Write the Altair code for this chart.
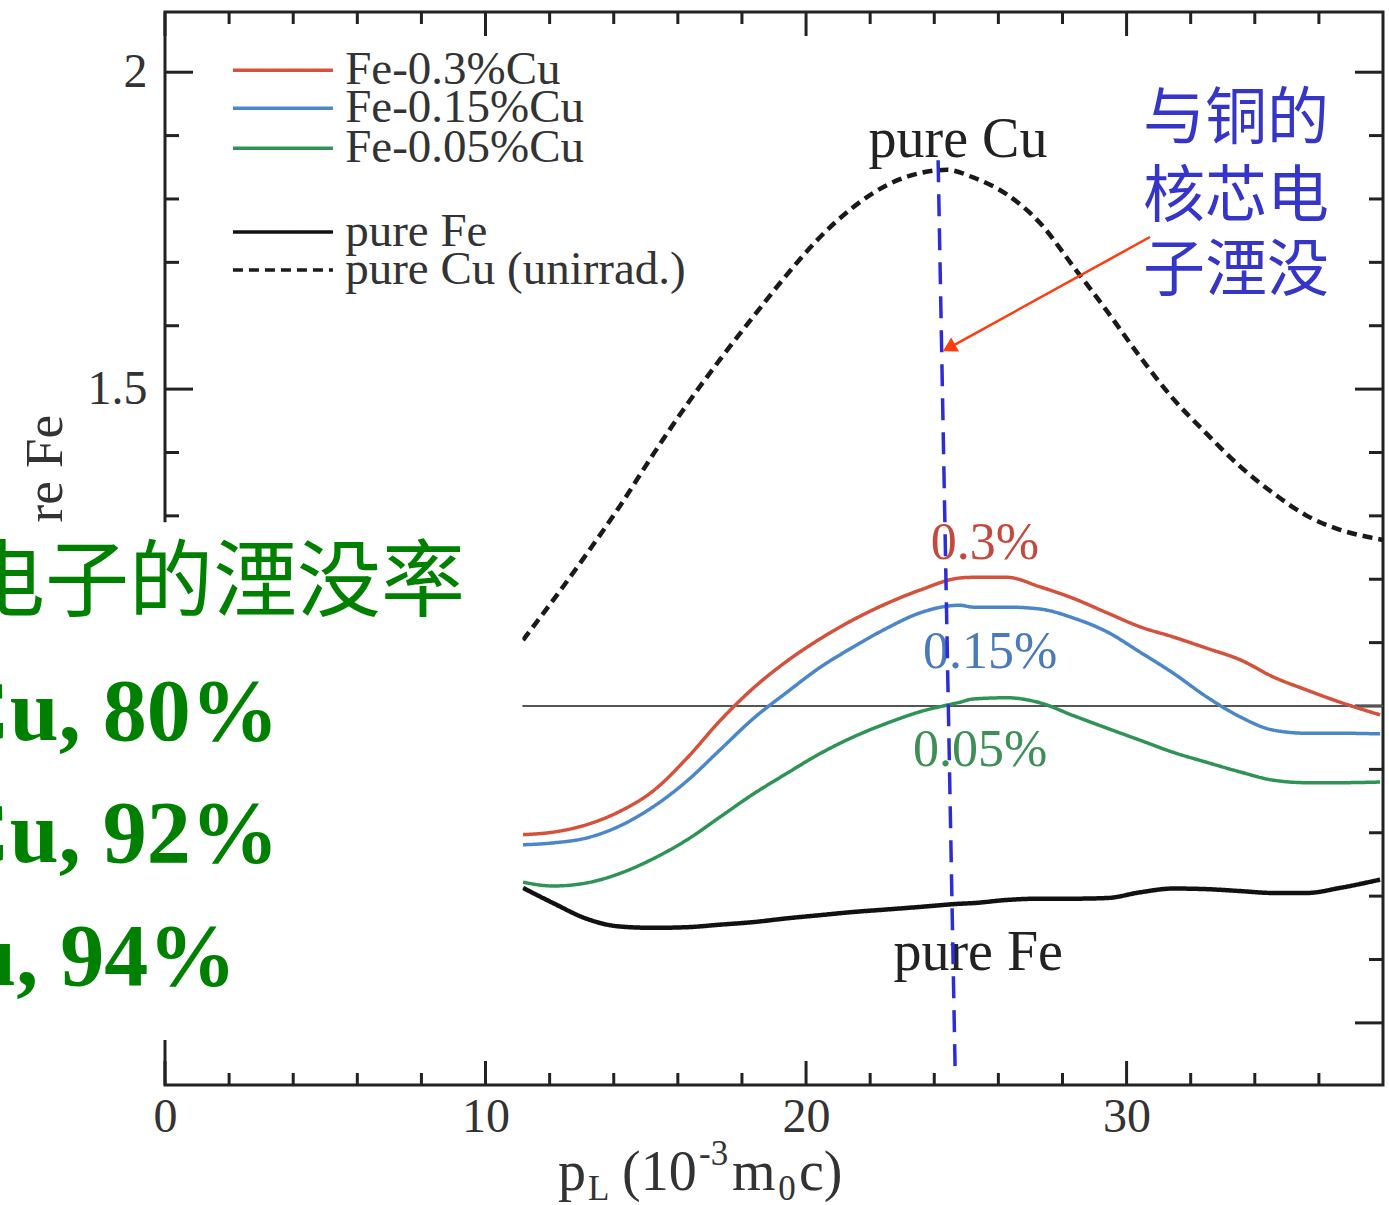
import altair as alt
import pandas as pd

# ---------------- data ----------------
# momentum p_L (10^-3 m0c) grid used for the Fe-Cu alloys and pure Fe
p_alloy = [11.17, 12.11, 13.17, 14.20, 15.23, 16.29, 17.32, 18.35, 19.41, 20.44,
           21.47, 22.53, 23.56, 24.80, 25.21, 26.27, 27.30, 28.33, 29.39, 30.42,
           31.45, 32.51, 33.54, 34.57, 35.63, 36.66, 37.91]
fe_03 = [0.797, 0.801, 0.813, 0.834, 0.866, 0.918, 0.977, 1.028, 1.071, 1.106,
         1.136, 1.162, 1.183, 1.202, 1.203, 1.203, 1.188, 1.170, 1.147, 1.125,
         1.109, 1.091, 1.073, 1.046, 1.025, 1.006, 0.986]
fe_015 = [0.781, 0.784, 0.792, 0.811, 0.841, 0.882, 0.931, 0.980, 1.022, 1.061,
          1.093, 1.123, 1.147, 1.159, 1.156, 1.156, 1.153, 1.139, 1.117, 1.085,
          1.052, 1.014, 0.983, 0.962, 0.957, 0.957, 0.956]
fe_005 = [0.722, 0.716, 0.721, 0.736, 0.759, 0.789, 0.825, 0.861, 0.894, 0.925,
          0.951, 0.973, 0.991, 1.006, 1.011, 1.013, 1.005, 0.985, 0.965, 0.946,
          0.927, 0.911, 0.896, 0.883, 0.879, 0.879, 0.880]
pure_fe = [0.713, 0.689, 0.664, 0.652, 0.650, 0.651, 0.655, 0.659, 0.665, 0.670,
           0.675, 0.679, 0.683, 0.688, 0.689, 0.694, 0.696, 0.696, 0.697, 0.706,
           0.712, 0.711, 0.708, 0.705, 0.705, 0.713, 0.726]

p_cu = [11.17, 12.11, 13.17, 14.20, 15.23, 16.29, 17.32, 18.35, 19.41, 20.44,
        21.47, 22.53, 23.56, 24.40, 25.21, 26.27, 27.30, 28.33, 29.39, 30.42,
        31.45, 32.51, 33.54, 34.57, 35.63, 36.66, 37.50, 38.00]
pure_cu = [1.104, 1.167, 1.241, 1.316, 1.397, 1.476, 1.547, 1.614, 1.681, 1.740,
           1.787, 1.822, 1.841, 1.846, 1.834, 1.807, 1.762, 1.694, 1.623, 1.551,
           1.485, 1.429, 1.378, 1.336, 1.300, 1.278, 1.267, 1.262]

series_names = ["Fe-0.3%Cu", "Fe-0.15%Cu", "Fe-0.05%Cu", "pure Fe", "pure Cu (unirrad.)"]
series_colors = ["#d4513b", "#4a86c8", "#2f9356", "#111111", "#1a1a1a"]
series_dash = [[1, 0], [1, 0], [1, 0], [1, 0], [10, 6]]

x_major = [0, 10, 20, 30]
x_minor = [2, 4, 6, 8, 12, 14, 16, 18, 22, 24, 26, 28, 32, 34, 36]
y_major = [0.5, 1.0, 1.5, 2.0]
y_minor = [0.6, 0.7, 0.8, 0.9, 1.1, 1.2, 1.3, 1.4, 1.6, 1.7, 1.8, 1.9]

curve_labels = ["pure Cu", "0.3%", "0.15%", "0.05%", "pure Fe"]
curve_label_colors = ["#222222", "#c4493d", "#4a7ab8", "#3d8f55", "#222222"]

note_lines = ["与铜的", "核芯电", "子湮没"]
rate_title = "核芯电子的湮没率"
rate_lines = ["Cu, 80%", "Cu, 92%", "u, 94%"]

# ---------------- layout ----------------
W, H = 1218, 1073
xs = alt.Scale(domain=[0, 38], nice=False, zero=False)
ys = alt.Scale(domain=[0.402, 2.095], nice=False, zero=False)
SERIF = "Liberation Serif"
CJK = "Noto Sans CJK SC"

x_axis = alt.Axis(values=x_major, ticks=False, tickSize=0, domain=False, grid=False,
                  labelFont=SERIF, labelFontSize=48, labelColor="#333333",
                  labelPadding=8, title=None, labelFlush=False)
y_axis = alt.Axis(values=y_major, ticks=False, tickSize=0, domain=False, grid=False,
                  labelFont=SERIF, labelFontSize=48, labelColor="#333333",
                  labelPadding=18, title=None, format="~g", labelFlush=False)


def X(f):
    return alt.X(f, type="quantitative", scale=xs, axis=x_axis)


def Y(f):
    return alt.Y(f, type="quantitative", scale=ys, axis=y_axis)


# curves table
rows = []
for name, vals in zip(series_names[:4], [fe_03, fe_015, fe_005, pure_fe]):
    for p, v in zip(p_alloy, vals):
        rows.append({"p": p, "r": v, "series": name})
for p, v in zip(p_cu, pure_cu):
    rows.append({"p": p, "r": v, "series": series_names[4]})
curves_df = pd.DataFrame(rows)

color_enc = alt.Color("series:N", scale=alt.Scale(domain=series_names, range=series_colors), legend=None)
dash_enc = alt.StrokeDash("series:N", scale=alt.Scale(domain=series_names, range=series_dash), legend=None)

layers = []

# inward ticks on all four sides
def tick_layer(vals, side, length):
    c = alt.Chart(pd.DataFrame({"v": vals})).mark_rule(color="#222222", strokeWidth=3)
    if side == "bottom":
        return c.encode(x=X("v"), y=alt.value(H), y2=alt.value(H - length))
    if side == "top":
        return c.encode(x=X("v"), y=alt.value(0), y2=alt.value(length))
    if side == "left":
        return c.encode(y=Y("v"), x=alt.value(0), x2=alt.value(length))
    return c.encode(y=Y("v"), x=alt.value(W), x2=alt.value(W - length))

for side in ["bottom", "top"]:
    layers.append(tick_layer(x_major, side, 24))
    layers.append(tick_layer(x_minor, side, 12))
for side in ["left", "right"]:
    layers.append(tick_layer(y_major, side, 28))
    layers.append(tick_layer(y_minor, side, 14))

# y-axis title (mostly hidden by the overlay box)
layers.append(alt.Chart(pd.DataFrame({"t": ["Ratio to pure Fe"], "x": [-3.21], "y": [1.459]}))
              .mark_text(align="right", baseline="alphabetic", angle=270, font=SERIF,
                         fontSize=53, color="#333333")
              .encode(x=X("x"), y=Y("y"), text="t:N"))

# ratio = 1 reference line
layers.append(alt.Chart(pd.DataFrame({"ref": [1.0]})).mark_rule(color="#555555", strokeWidth=2)
              .encode(y=Y("ref")))

# curves: alloys, pure Fe, pure Cu (dashed)
def curve_layer(names, width):
    return (alt.Chart(curves_df[curves_df["series"].isin(names)])
            .mark_line(interpolate="monotone", strokeWidth=width)
            .encode(x=X("p"), y=Y("r"), color=color_enc, strokeDash=dash_enc, detail="series:N"))

layers.append(curve_layer(series_names[:3], 3.5))
layers.append(curve_layer([series_names[3]], 4.5))
layers.append(curve_layer([series_names[4]], 4.5))

# white overlay box (slide text box covering part of the plot)
box_df = pd.DataFrame({"x0": [-5.3], "x1": [11.15], "y0": [0.473], "y1": [1.290]})
layers.append(alt.Chart(box_df).mark_rect(fill="white", stroke=None)
              .encode(x=X("x0"), x2=alt.X2("x1"), y=Y("y0"), y2=alt.Y2("y1")))

# green text in the box
layers.append(alt.Chart(pd.DataFrame({"t": [rate_title], "x": [9.36], "y": [1.191]}))
              .mark_text(align="right", baseline="middle", font=CJK, fontSize=84, color="#008000")
              .encode(x=X("x"), y=Y("y"), text="t:N"))
rate_df = pd.DataFrame({"t": rate_lines, "x": [3.55, 3.55, 2.22], "y": [0.946, 0.754, 0.560]})
layers.append(alt.Chart(rate_df)
              .mark_text(align="right", baseline="alphabetic", font=SERIF, fontSize=88,
                         fontWeight="bold", color="#008000")
              .encode(x=X("x"), y=Y("y"), text="t:N"))

# legend (drawn inside the plot)
leg_df = pd.DataFrame({"series": series_names,
                       "ly": [2.003, 1.943, 1.880, 1.748, 1.688],
                       "lx0": [2.12] * 5, "lx1": [5.24] * 5, "tx": [5.62] * 5})
layers.append(alt.Chart(leg_df).mark_rule(strokeWidth=3.5)
              .encode(x=X("lx0"), x2=alt.X2("lx1"), y=Y("ly"), color=color_enc,
                      strokeDash=dash_enc))
layers.append(alt.Chart(leg_df)
              .mark_text(align="left", baseline="middle", font=SERIF, fontSize=47, color="#333333")
              .encode(x=X("tx"), y=Y("ly"), text="series:N"))

# curve labels
lab_df = pd.DataFrame({"t": curve_labels, "c": curve_label_colors,
                       "x": [24.74, 25.58, 25.74, 25.43, 25.37],
                       "y": [1.893, 1.257, 1.085, 0.931, 0.610],
                       "s": [56, 52, 52, 52, 56]})
layers.append(alt.Chart(lab_df)
              .mark_text(align="center", baseline="middle", font=SERIF)
              .encode(x=X("x"), y=Y("y"), text="t:N",
                      color=alt.Color("c:N", scale=None),
                      size=alt.Size("s:Q", scale=None)))

# blue dashed marker line at the Cu peak
vline_df = pd.DataFrame({"x0": [24.12], "y0": [1.861], "x1": [24.65], "y1": [0.429]})
layers.append(alt.Chart(vline_df).mark_rule(color="#2d2dd8", strokeWidth=3.5, strokeDash=[22, 12])
              .encode(x=X("x0"), y=Y("y0"), x2=alt.X2("x1"), y2=alt.Y2("y1")))

# red arrow
arrow_df = pd.DataFrame({"x0": [30.73], "y0": [1.740], "x1": [24.46], "y1": [1.565]})
layers.append(alt.Chart(arrow_df).mark_rule(color="#ff3b10", strokeWidth=2.5)
              .encode(x=X("x0"), y=Y("y0"), x2=alt.X2("x1"), y2=alt.Y2("y1")))
layers.append(alt.Chart(arrow_df)
              .mark_point(shape="triangle-up", filled=True, color="#ff3b10", size=260,
                          angle=241, opacity=1)
              .encode(x=X("x1"), y=Y("y1")))

# blue annotation text
note_df = pd.DataFrame({"t": note_lines, "x": [30.51] * 3, "y": [1.924, 1.801, 1.685]})
layers.append(alt.Chart(note_df)
              .mark_text(align="left", baseline="middle", font=CJK, fontSize=62, color="#3535c8")
              .encode(x=X("x"), y=Y("y"), text="t:N"))

# x-axis title with sub/superscripts
xt_df = pd.DataFrame({"t": ["p", "L", "(10", "-3", "m", "0", "c)"],
                      "x": [12.26, 13.20, 14.26, 16.66, 17.69, 19.13, 19.78],
                      "y": [0.237, 0.221, 0.237, 0.276, 0.237, 0.221, 0.237],
                      "s": [56, 35, 56, 35, 56, 35, 56]})
layers.append(alt.Chart(xt_df)
              .mark_text(align="left", baseline="alphabetic", font=SERIF, color="#333333")
              .encode(x=X("x"), y=Y("y"), text="t:N", size=alt.Size("s:Q", scale=None)))

chart = (alt.layer(*layers)
         .properties(width=W, height=H,
                     autosize=alt.AutoSizeParams(type="none"),
                     padding={"left": 165, "top": 12, "right": 6, "bottom": 120},
                     background="white")
         .configure_view(stroke="#222222", strokeWidth=3))

chart.save("out.html", embed_options={"renderer": "svg", "actions": False})
